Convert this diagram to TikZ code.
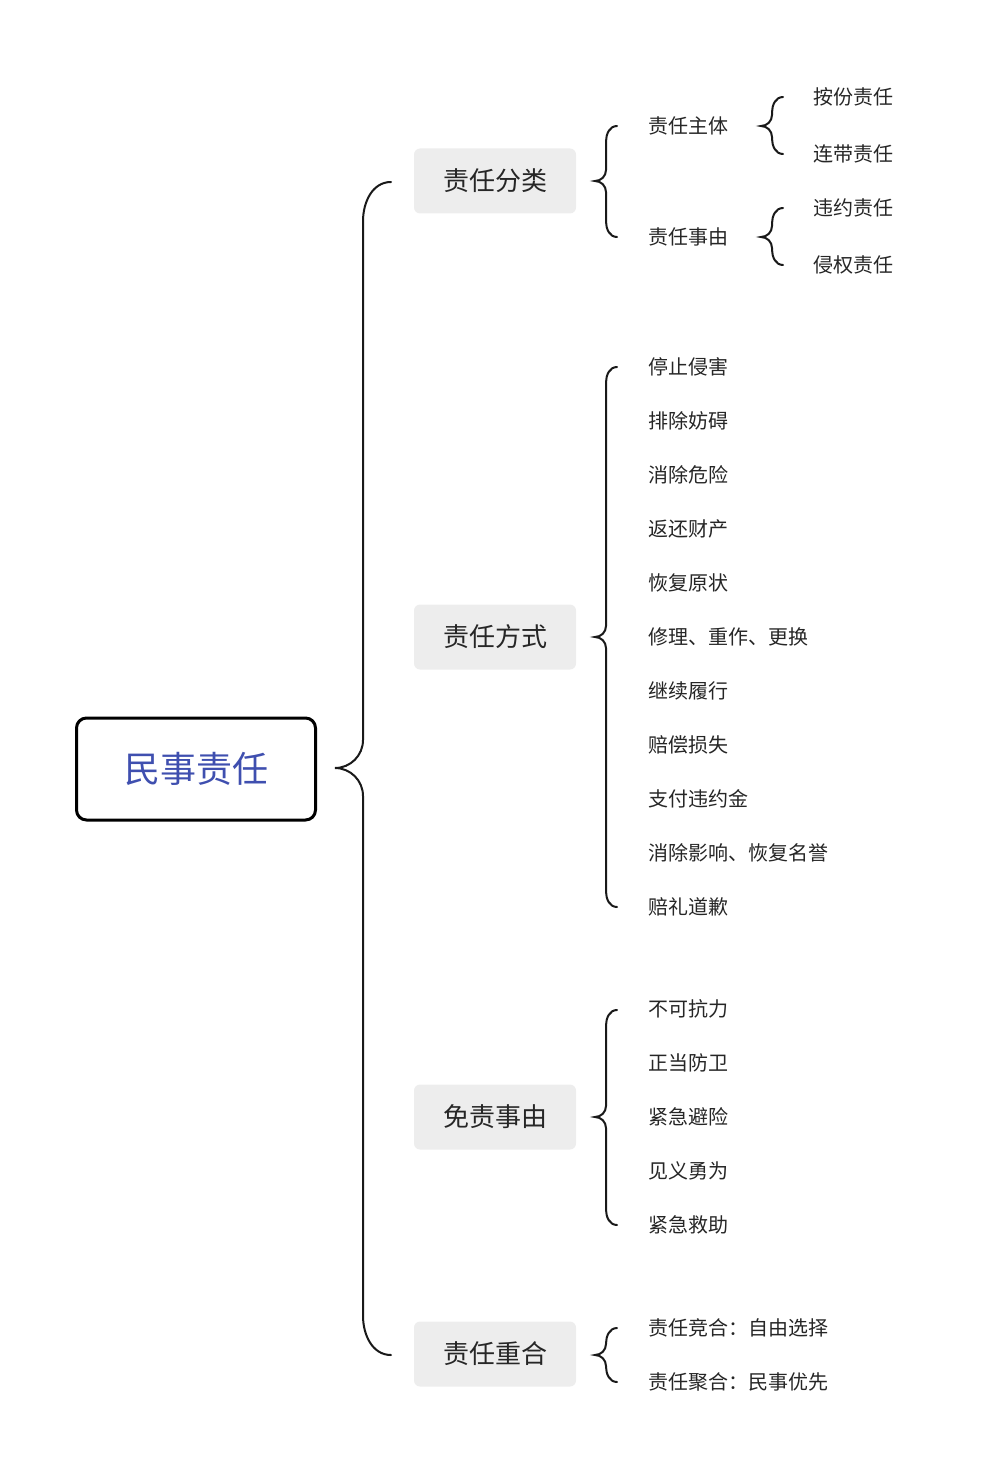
\documentclass[tikz,border=0pt]{standalone}
\usepackage{fontspec}
\setmainfont{Noto Sans CJK SC}
\begin{document}
\begin{tikzpicture}[x=1pt,y=-1pt,
  lvl/.style={fill=black!7,rounded corners=6pt,minimum width=162pt,minimum height=65pt,font=\fontsize{26}{30}\selectfont,text=black!85},
  leaf/.style={anchor=west,font=\fontsize{20}{24}\selectfont,text=black!85,inner sep=0},
  br/.style={line width=2pt,black!90,line cap=round}]
\useasboundingbox (0,0) rectangle (981,1479);
\newcommand\brc[5]{\draw[br] (#1+#5,#2) to[out=180,in=90] (#1,#2+#5*1.4) -- (#1,#4-#5) to[out=-90,in=0] (#1-#5,#4) to[out=0,in=90] (#1,#4+#5) -- (#1,#3-#5*1.4) to[out=-90,in=180] (#1+#5,#3);}
\node[draw,line width=3pt,rounded corners=10pt,minimum width=239pt,minimum height=102pt,font=\fontsize{36}{40}\selectfont,text={rgb,255:red,63;green,79;blue,175}] (root) at (196,769) {民事责任};
\brc{363}{182}{1355}{768}{28}
\node[lvl] (a) at (495,181) {责任分类};
\node[lvl] (b) at (495,637) {责任方式};
\node[lvl] (c) at (495,1117) {免责事由};
\node[lvl] (d) at (495,1354) {责任重合};
\brc{606}{126}{237}{181}{11}
\brc{606}{367}{907}{637}{11}
\brc{606}{1010}{1225}{1117}{11}
\brc{606}{1328}{1382}{1355}{11}
\brc{772}{97}{154}{126}{11}
\brc{772}{208}{265}{237}{11}
\node[leaf] (a1) at (648,126) {责任主体};
\node[leaf] (a2) at (648,237) {责任事由};
\node[leaf] at (813,97) {按份责任};
\node[leaf] at (813,154) {连带责任};
\node[leaf] at (813,208) {违约责任};
\node[leaf] at (813,265) {侵权责任};
\foreach \t [count=\i from 0] in {停止侵害,排除妨碍,消除危险,返还财产,恢复原状,{修理、重作、更换},继续履行,赔偿损失,支付违约金,{消除影响、恢复名誉},赔礼道歉}
  \node[leaf] at (648,367+54*\i) {\t};
\foreach \t [count=\i from 0] in {不可抗力,正当防卫,紧急避险,见义勇为,紧急救助}
  \node[leaf] at (648,1009+54*\i) {\t};
\node[leaf] at (648,1328) {责任竞合：自由选择};
\node[leaf] at (648,1382) {责任聚合：民事优先};
\end{tikzpicture}
\end{document}
